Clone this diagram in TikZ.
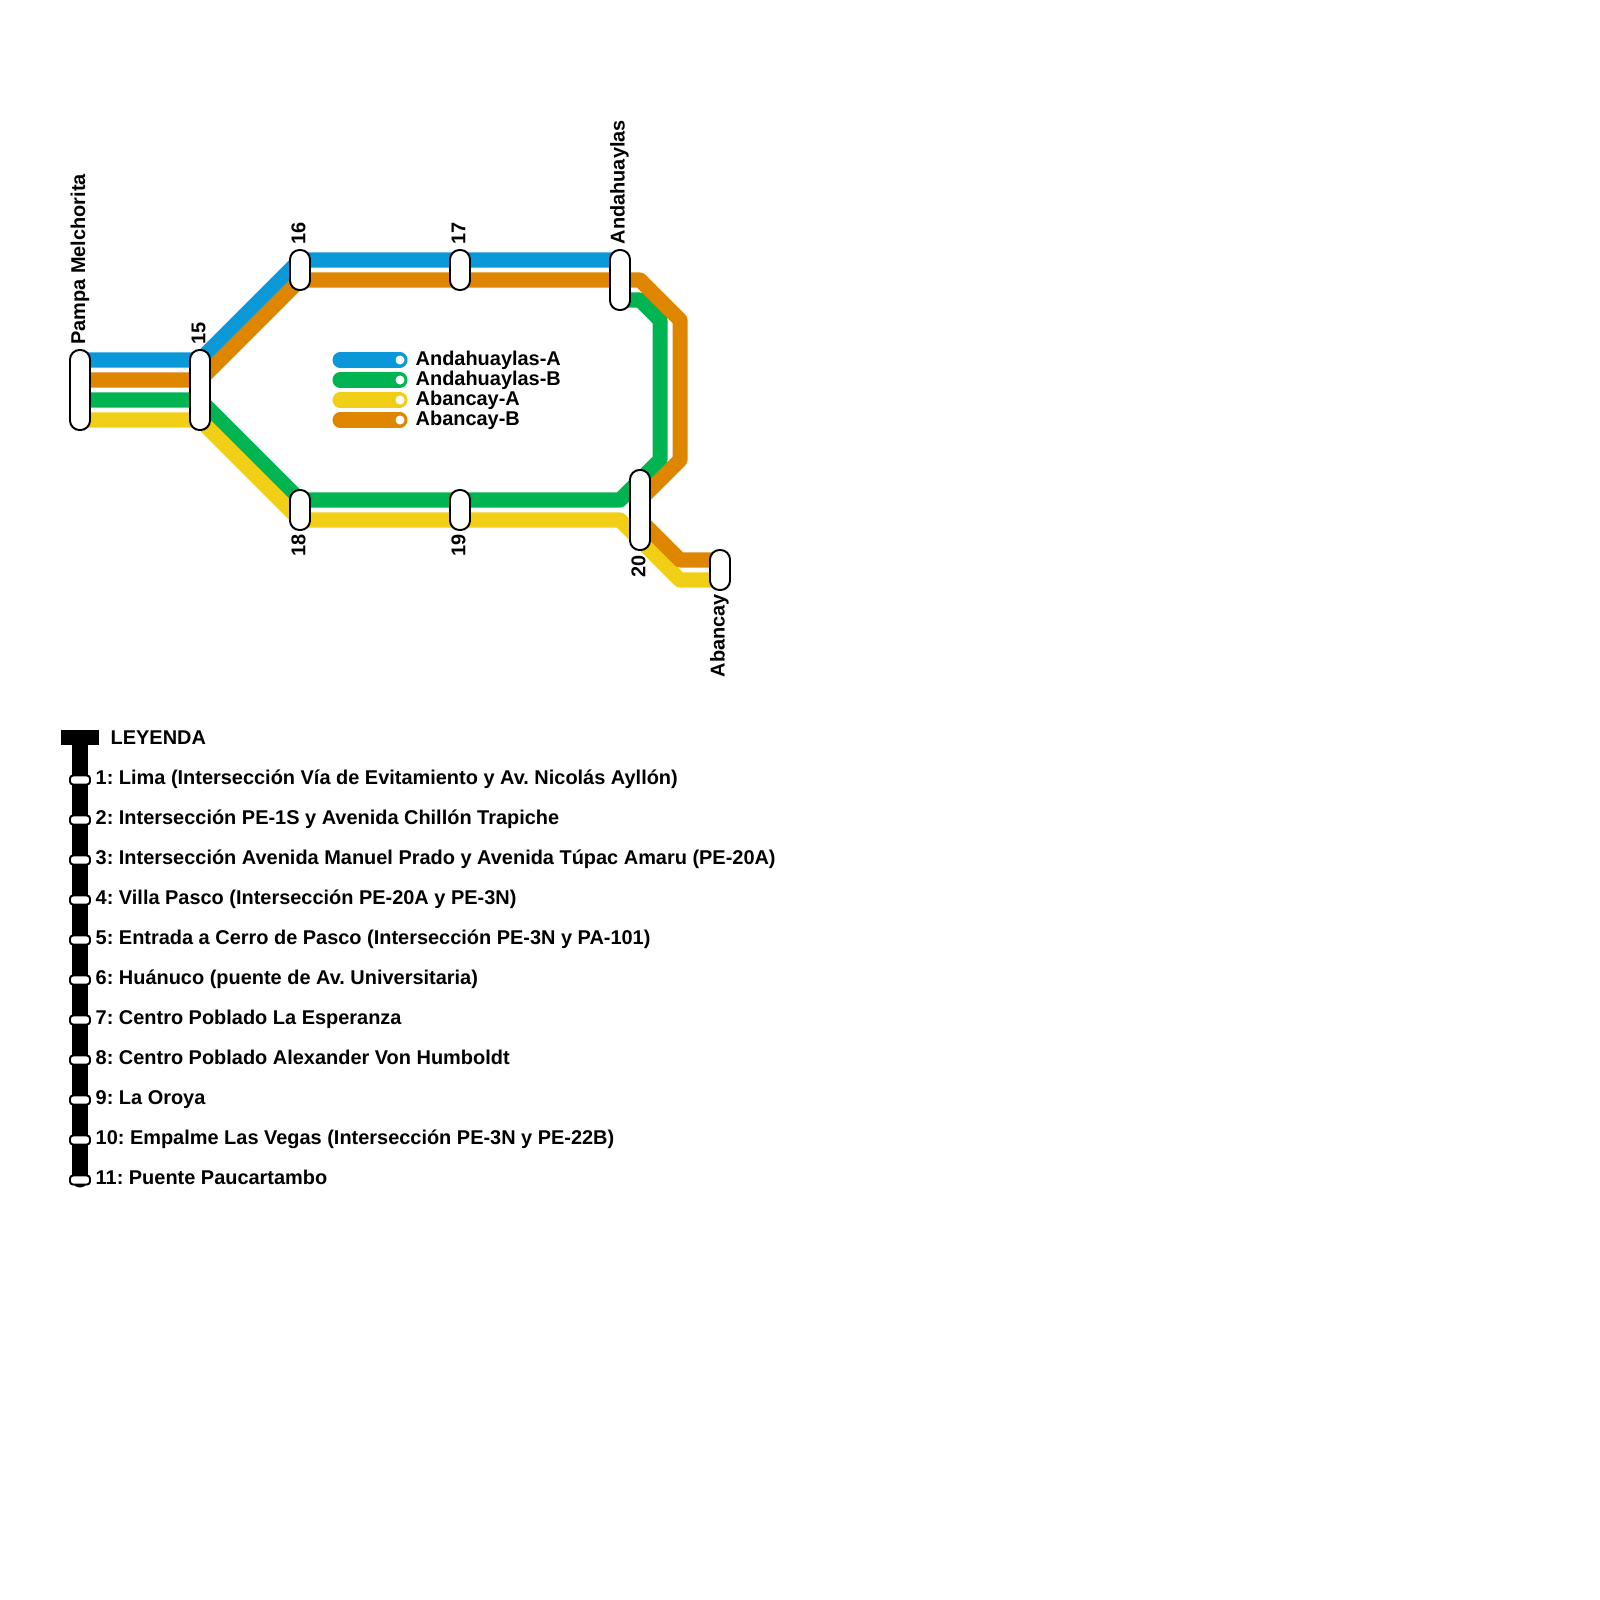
\documentclass[tikz,border=0pt]{standalone}
\usepackage{fontspec}
\setmainfont{Liberation Sans}
\definecolor{cblue}{HTML}{0A98D8}
\definecolor{corange}{HTML}{DE8600}
\definecolor{cgreen}{HTML}{00B451}
\definecolor{cyellow}{HTML}{F0CF16}
\tikzset{
 route/.style={line width=4.27pt,line join=round,line cap=butt},
 keyline/.style={line width=4.27pt,line cap=round},
 stationbox/.style={draw=black,fill=white,line width=0.55pt,rounded corners=0.095cm,minimum width=0.2cm,inner sep=0pt,outer sep=0pt},
 legstop/.style={draw=black,fill=white,line width=0.55pt,rounded corners=0.03cm,minimum width=0.2cm,minimum height=0.09cm,inner sep=0pt,outer sep=0pt},
 keydot/.style={circle,fill=white,minimum size=0.09cm,inner sep=0pt},
 lab/.style={font=\fontsize{5.67pt}{6pt}\selectfont\bfseries\frenchspacing,inner sep=0pt},
 vlab/.style={lab,rotate=90,anchor=west},
 txt/.style={lab,anchor=base west}
}
\begin{document}
\begin{tikzpicture}[x=0.01cm,y=-0.01cm]
\useasboundingbox[fill=white] (0,0) rectangle (1600,1600);
% waypoints
\coordinate (pb) at (80,360); \coordinate (po) at (80,380); \coordinate (pg) at (80,400); \coordinate (py) at (80,420);
\coordinate (ab) at (200,360); \coordinate (ao) at (200,380); \coordinate (ag) at (200,400); \coordinate (ay) at (200,420);
\coordinate (tb) at (300,260); \coordinate (to) at (300,280); \coordinate (bg) at (300,500); \coordinate (by) at (300,520);
\coordinate (eb) at (620,260); \coordinate (eo) at (640,280); \coordinate (rot) at (680,320); \coordinate (rob) at (680,460);
\coordinate (mo) at (640,500); \coordinate (mo2) at (640,520); \coordinate (so) at (680,560); \coordinate (fo) at (720,560);
\coordinate (eg) at (620,300); \coordinate (eg2) at (640,300); \coordinate (rgt) at (660,320); \coordinate (rgb) at (660,460);
\coordinate (cg) at (620,500); \coordinate (cy) at (620,520); \coordinate (sy) at (680,580); \coordinate (fy) at (720,580);
% routes
\draw[route,cblue] (pb) -- (ab) -- (tb) -- (eb);
\draw[route,cgreen] (pg) -- (ag) -- (bg) -- (cg) -- (rgb) -- (rgt) -- (eg2) -- (eg);
\draw[route,cyellow] (py) -- (ay) -- (by) -- (cy) -- (sy) -- (fy);
\draw[route,corange] (po) -- (ao) -- (to) -- (eo) -- (rot) -- (rob) -- (mo) -- (mo2) -- (so) -- (fo);
% stations
\node[stationbox,minimum height=0.8cm] (pampa) at (80,390) {};
\node[stationbox,minimum height=0.8cm] (s15) at (200,390) {};
\node[stationbox,minimum height=0.4cm] (s16) at (300,270) {};
\node[stationbox,minimum height=0.4cm] (s17) at (460,270) {};
\node[stationbox,minimum height=0.6cm] (anda) at (620,280) {};
\node[stationbox,minimum height=0.4cm] (s18) at (300,510) {};
\node[stationbox,minimum height=0.4cm] (s19) at (460,510) {};
\node[stationbox,minimum height=0.8cm] (s20) at (640,510) {};
\node[stationbox,minimum height=0.4cm] (aban) at (720,570) {};
% station labels
\node[vlab] (lpampa) at (80,345.5) {Pampa Melchorita};
\node[vlab] (l15) at (198.5,345) {15};
\node[vlab] (l16) at (298.5,245) {16};
\node[vlab] (l17) at (458.5,245) {17};
\node[vlab] (landa) at (619.5,245) {Andahuaylas};
\node[vlab] (l18) at (298.5,557) {18};
\node[vlab] (l19) at (458.5,557) {19};
\node[vlab] (l20) at (638.5,578) {20};
\node[vlab] (laban) at (719.5,678) {Abancay};
% key
\coordinate (k1a) at (340,360); \node[keydot] (k1b) at (400,360) {};
\coordinate (k2a) at (340,380); \node[keydot] (k2b) at (400,380) {};
\coordinate (k3a) at (340,400); \node[keydot] (k3b) at (400,400) {};
\coordinate (k4a) at (340,420); \node[keydot] (k4b) at (400,420) {};
\draw[keyline,cblue] (k1a) -- (k1b.center);
\draw[keyline,cgreen] (k2a) -- (k2b.center);
\draw[keyline,cyellow] (k3a) -- (k3b.center);
\draw[keyline,corange] (k4a) -- (k4b.center);
\node[keydot] at (k1b) {}; \node[keydot] at (k2b) {}; \node[keydot] at (k3b) {}; \node[keydot] at (k4b) {};
\node[txt] (t1) at (415,365.5) {Andahuaylas-A};
\node[txt] (t2) at (415,385.5) {Andahuaylas-B};
\node[txt] (t3) at (415,405.5) {Abancay-A};
\node[txt] (t4) at (415,425.5) {Abancay-B};
% legend
\node[fill=black,minimum width=0.37cm,minimum height=0.15cm,inner sep=0pt,outer sep=0pt] (lhead) at (80,737) {};
\coordinate (lend) at (80,1180);
\draw[line width=4.27pt,line cap=round,black] (lhead.south) -- (lend);
\foreach \n in {1,...,11}{
  \node[legstop] (st\n) at (80,740+40*\n) {};
}
\node[txt] (lt) at (110,744.6) {LEYENDA};
\node[txt] (e1) at (95,784.6) {1: Lima (Intersección Vía de Evitamiento y Av. Nicolás Ayllón)};
\node[txt] (e2) at (95,824.6) {2: Intersección PE-1S y Avenida Chillón Trapiche};
\node[txt] (e3) at (95,864.6) {3: Intersección Avenida Manuel Prado y Avenida Túpac Amaru (PE-20A)};
\node[txt] (e4) at (95,904.6) {4: Villa Pasco (Intersección PE-20A y PE-3N)};
\node[txt] (e5) at (95,944.6) {5: Entrada a Cerro de Pasco (Intersección PE-3N y PA-101)};
\node[txt] (e6) at (95,984.6) {6: Huánuco (puente de Av. Universitaria)};
\node[txt] (e7) at (95,1024.6) {7: Centro Poblado La Esperanza};
\node[txt] (e8) at (95,1064.6) {8: Centro Poblado Alexander Von Humboldt};
\node[txt] (e9) at (95,1104.6) {9: La Oroya};
\node[txt] (e10) at (95,1144.6) {10: Empalme Las Vegas (Intersección PE-3N y PE-22B)};
\node[txt] (e11) at (95,1184.6) {11: Puente Paucartambo};
\end{tikzpicture}
\end{document}
